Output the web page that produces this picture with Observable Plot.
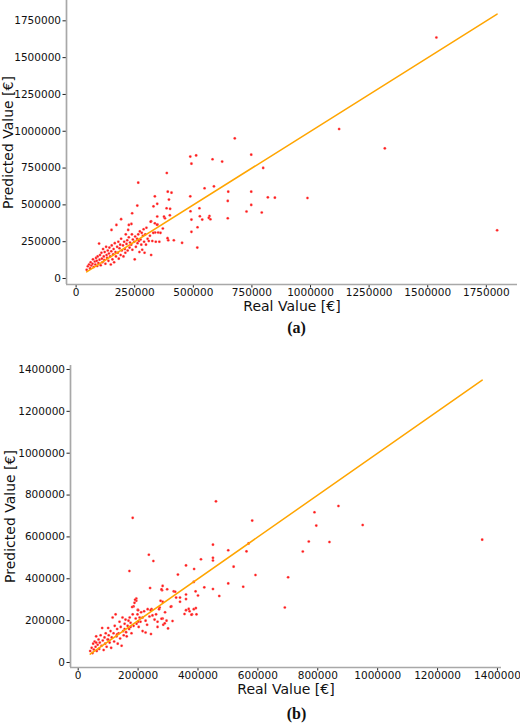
<!DOCTYPE html>
<html>
<head>
<meta charset="utf-8">
<script src="https://cdn.jsdelivr.net/npm/d3@7"></script>
<script src="https://cdn.jsdelivr.net/npm/@observablehq/plot@0.6"></script>
<style>
  html, body { margin: 0; padding: 0; background: #fff; }
  #fig { width: 520px; }
  #fig svg { display: block; }
</style>
</head>
<body>
<div id="fig"></div>
<script>
// Values in thousands of euros: [real, predicted]
const pointsA = [
  [1537,1637],[1122,1015],[1317,884],[1796,328],[987,547],[848,549],[818,551],[798,751],[792,448],
  [747,841],[747,590],[747,500],[727,455],
  [677,952],[649,590],[647,527],[647,409],[623,794],[582,810],[588,626],[548,613],[573,402],[569,425],
  [566,412],[538,400],[528,423],[526,477],[518,348],[517,210],[512,836],[492,780],[487,828],[487,558],
  [488,457],[492,400],[492,317],
  [452,242],[417,260],[407,583],[401,473],[400,430],[396,536],[393,260],[391,590],[390,274],[387,717],
  [386,477],[379,409],[350,312],[347,366],[346,507],[346,421],[337,312],[336,558],[336,375],[329,310],
  [320,389],[265,651],[261,495],[239,443],[236,371],[225,364],[192,403],[151,330],
  [45,59],[50,83],[55,95],[60,70],[62,110],[65,88],[70,100],[72,130],[75,78],[80,115],[82,95],[85,140],
  [88,120],[90,85],[92,150],[95,105],[98,237],[100,128],[102,160],[105,90],[108,175],[110,135],[112,110],
  [115,200],[118,150],[120,125],[122,180],[125,100],[128,215],[130,160],[132,140],[135,190],[138,120],
  [140,170],[142,210],[145,150],[148,95],[150,185],[152,225],[155,130],[158,165],[160,200],[162,110],
  [165,240],[168,180],[170,150],[172,364],[175,215],[178,175],[180,250],[182,135],[185,205],[188,230],
  [190,160],[192,270],[195,190],[200,225],[202,150],[205,250],[208,200],[210,175],[212,300],[215,235],
  [218,260],[220,190],[222,330],[225,280],[228,210],[230,245],[235,230],[238,300],[240,195],[242,265],
  [248,250],[250,130],[252,285],[255,215],[260,270],[262,240],[265,300],[268,255],[270,180],[272,320],
  [275,265],[278,230],[280,310],[282,195],[285,290],[288,335],[290,250],[292,175],[295,300],[298,230],
  [300,345],[305,270],[310,255],[315,290],[318,385],[320,160],[325,255],[330,490],[340,250],[345,365],
  [355,250],[360,310],[370,340],[375,420]
];
const pointsB = [
  [869,748],[789,718],[795,654],[950,657],[770,578],[839,576],[750,530],[701,407],[690,263],[1349,587],
  [182,691],[460,770],[171,437],[236,515],[251,485],[450,563],[450,500],[450,487],[501,536],[519,458],
  [501,378],[569,569],[581,678],[562,531],[551,362],[592,418],[471,318],[450,351],[421,359],[410,493],
  [387,447],[386,385],[360,464],[333,420],[319,340],[327,310],[282,366],[280,345],[297,350],[282,290],
  [311,268],[315,198],[300,163],[284,180],[282,210],[340,310],[340,290],[360,325],[360,250],[372,245],
  [380,230],[386,255],[393,260],[395,230],[400,320],[392,340],[378,228],[355,232],[360,303],[369,256],
  [194,306],[194,295],[199,252],[185,268],[240,356],[245,255],[243,136],[225,143],[265,170],[272,263],
  [278,209],[289,187],[309,266],[324,338],
  [40,55],[45,70],[48,45],[50,90],[52,62],[55,100],[58,75],[60,125],[62,55],[65,85],[68,110],[70,65],
  [72,95],[75,130],[78,80],[80,165],[82,105],[85,60],[88,120],[90,90],[92,140],[95,75],[98,110],[100,165],
  [102,130],[105,95],[108,150],[110,70],[112,120],[115,215],[118,140],[120,100],[122,175],[125,230],
  [128,125],[130,160],[132,90],[135,140],[138,195],[140,115],[142,170],[145,80],[148,215],[150,150],
  [152,130],[155,185],[158,205],[160,145],[162,125],[165,175],[168,200],[170,160],[172,215],[175,190],
  [178,140],[180,265],[182,230],[185,175],[188,285],[190,300],[192,210],[195,185],[198,230],[200,250],
  [202,170],[205,215],[208,195],[210,240],[215,150],[220,245],[225,200],[230,180],[232,255],[238,220],
  [242,250],[248,225],[255,205],[260,230],[265,195],[270,255],[275,295],[278,350],[290,240],[295,200],
  [60,95],[100,110],[130,135],[155,160],[175,170],[200,195],[215,215]
];
const ticksA = [0, 250000, 500000, 750000, 1000000, 1250000, 1500000, 1750000];
const ticksB = [0, 200000, 400000, 600000, 800000, 1000000, 1200000, 1400000];
const xLabel = "Real Value [€]";
const yLabel = "Predicted Value [€]";
const tagA = "(a)";
const tagB = "(b)";

function panel(o) {
  const pts = o.points.map(([r, p]) => ({r: r * 1000, p: p * 1000}));
  const ext = d3.extent(pts, d => d.r);
  const diag = ext.map(v => ({v}));
  const axisOpts = {tickSize: 3.5, tickPadding: 2, tickFormat: "d", label: null, fontSize: 10.5, stroke: "#222", strokeWidth: 1};
  return Plot.plot({
    width: 520, height: o.height,
    marginLeft: o.ml, marginRight: o.mr, marginTop: o.mt, marginBottom: o.mb,
    style: {fontFamily: "DejaVu Sans", fontSize: "10.5px", color: "#111", background: "#fff", overflow: "visible"},
    x: {domain: o.xDomain, label: null},
    y: {domain: o.yDomain, label: null},
    marks: [
      Plot.axisX({...axisOpts, ticks: o.ticks, tickPadding: 1}),
      Plot.axisY({...axisOpts, ticks: o.ticks}),
      Plot.ruleX([o.xDomain[0]], {stroke: "#a8a8a8", strokeWidth: 1.7}),
      Plot.ruleY([o.yDomain[0]], {stroke: "#a8a8a8", strokeWidth: 1.7}),
      Plot.dot(pts, {x: "r", y: "p", r: 1.3, fill: "#ff1a1a", stroke: "#ffb0b0", strokeWidth: 0.3}),
      Plot.line(diag, {x: "v", y: "v", stroke: "orange", strokeWidth: 1.5}),
      Plot.text([xLabel], {frameAnchor: "bottom", lineAnchor: "middle", textAnchor: "middle", dy: 22.5, fontSize: 14, fill: "#111"}),
      Plot.text([yLabel], {frameAnchor: "left", lineAnchor: "middle", textAnchor: "middle", dx: o.ylabDx, rotate: -90, fontSize: 14, fill: "#111"}),
      Plot.text([o.tag], {frameAnchor: "bottom", lineAnchor: "middle", textAnchor: "middle", dy: o.tagDy, dx: o.tagDx, fontSize: 16, fontWeight: "bold", fontFamily: "Liberation Serif", fill: "#111"})
    ]
  });
}

const fig = document.getElementById("fig");
fig.appendChild(panel({
  points: pointsA, ticks: ticksA, height: 345, ml: 66, mr: 3, mt: 0, mb: 61,
  xDomain: [-41000, 1883000], yDomain: [-40700, 1888000],
  ylabDx: -58, tag: tagA, tagDy: 43, tagDx: 4.5
}));
fig.appendChild(panel({
  points: pointsB, ticks: ticksB, height: 378, ml: 70, mr: 19, mt: 20, mb: 56,
  xDomain: [-25700, 1413500], yDomain: [-23900, 1419000],
  ylabDx: -60, tag: tagB, tagDy: 46, tagDx: 10.5
}));
</script>
</body>
</html>
